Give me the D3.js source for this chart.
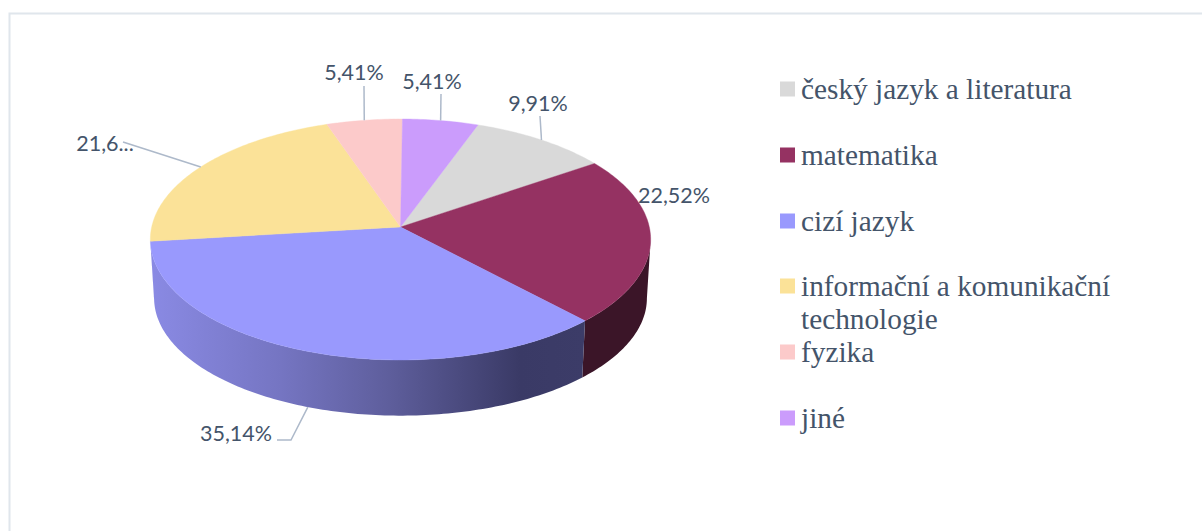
<!DOCTYPE html>
<html><head><meta charset="utf-8">
<script src="https://cdn.jsdelivr.net/npm/d3@7"></script>
<style>html,body{margin:0;padding:0;background:#fff;overflow:hidden}svg{display:block}</style>
</head><body><svg id="c" width="1202" height="531"></svg>
<script>
const categories = ["český jazyk a literatura","matematika","cizí jazyk","informační a komunikační technologie","fyzika","jiné"];
const values = [9.91,22.52,35.14,21.62,5.41,5.41];
const valueLabels = ["9,91%","22,52%","35,14%","21,6...","5,41%","5,41%"];
const colours = ["#d9d9d9","#953262","#9999fd","#fbe298","#fccaca","#cb9cfc"];
const sideColours = ["#6d6d6d","#3b1528","#3a3a66","#8a8ae4","#7e6565","#654e7e"];

const svg = d3.select("#c");
const colour = d3.scaleOrdinal(categories, colours);
const side = d3.scaleOrdinal(categories, sideColours);
const TAU = 2*Math.PI;

// Perspective projection of the pie disc
const cx=400.5, cy=227, a=119.2, b=248.8, k=0.1037, depth=59, shrink=0.985, shrinkY=0.975;
const top3 = t=>{const w=1+k*Math.cos(t);return [cx+b*Math.sin(t)/w, cy-a*Math.cos(t)/w];};
const bot3 = t=>{const w=1+k*Math.cos(t);return [cx+shrink*b*Math.sin(t)/w, cy+depth-shrinkY*a*Math.cos(t)/w];};
const line = d3.line();
const arcPts=(f,t0,t1)=>d3.range(0,1.0001,1/Math.max(8,Math.ceil(Math.abs(t1-t0)*60))).map(u=>f(t0+(t1-t0)*u));

const pie = d3.pie().value(d=>d.v).sort(null).startAngle(0.0).endAngle(TAU);
const startOffset = TAU*values[5]/d3.sum(values) + 0.5*Math.PI/180;
const slices = pie(categories.map((c,i)=>({c,v:values[i],l:valueLabels[i]})))
  .map(s=>({...s,a0:s.startAngle+startOffset,a1:s.endAngle+startOffset,mid:(s.startAngle+s.endAngle)/2+startOffset}));

// frame
svg.append("path").attr("d","M1202,13.5H9.5V531").attr("fill","none").attr("stroke","#e0e6ec").attr("stroke-width",2);

// side gradient
const defs=svg.append("defs");
const g=defs.append("linearGradient").attr("id","blueSide").attr("gradientUnits","userSpaceOnUse")
  .attr("x1",150).attr("x2",585).attr("y1",0).attr("y2",0);
[[0,"#8a8ae4"],[0.3,"#7575c2"],[0.55,"#5e5e9c"],[0.85,"#3a3a66"],[1,"#3c3c68"]].forEach(([o,c])=>g.append("stop").attr("offset",o).attr("stop-color",c));

// side walls: visible part of the rim, between the silhouette tangents
const vis0=Math.acos(-k), vis1=TAU-vis0;
slices.forEach((s)=>{
  const t0=Math.max(s.a0,vis0), t1=Math.min(s.a1,vis1);
  if(t1<=t0) return;
  const pts=[...arcPts(top3,t0,t1),...arcPts(bot3,t0,t1).reverse()];
  svg.append("path").attr("d",line(pts)+"Z")
    .attr("fill",s.data.c===categories[2]?"url(#blueSide)":side(s.data.c));
});
// top faces
slices.forEach(s=>{
  const pts=[[cx,cy],...arcPts(top3,s.a0,s.a1)];
  svg.append("path").attr("d",line(pts)+"Z").attr("fill",colour(s.data.c))
    .attr("stroke",colour(s.data.c)).attr("stroke-width",0.4);
});

// data labels: position per slice, in the order of categories
const labelLayout=[
 {x:538,y:111,end:[540,116]},
 {x:674,y:203,end:null},
 {x:236,y:441,elbow:[[291,440],[277,440]],useBottom:true},
 {x:105,y:151,end:[123,142]},
 {x:354,y:80,end:[364,86]},
 {x:432,y:89,end:[441,94]},
];
slices.forEach((s,i)=>{
  const L=labelLayout[i];
  const p=L.useBottom?bot3(s.mid):top3(s.mid);
  if(L.end) svg.append("path").attr("d",line([p,L.end])).attr("fill","none").attr("stroke","#adb9ca").attr("stroke-width",1.5);
  if(L.elbow) svg.append("path").attr("d",line([p,...L.elbow])).attr("fill","none").attr("stroke","#adb9ca").attr("stroke-width",1.5);
  svg.append("text").attr("x",L.x).attr("y",L.y).attr("text-anchor","middle")
    .attr("font-family","Lato, sans-serif").attr("font-size",21.5).attr("fill","#44546a").text(s.data.l);
});

// legend
const legendRows=[[categories[0]],[categories[1]],[categories[2]],["informační a komunikační","technologie"],[categories[4]],[categories[5]]];
const legendY=d3.scaleOrdinal(categories,[89,155,221,286,352,418]);
categories.forEach((c,i)=>{
  const y=legendY(c);
  svg.append("rect").attr("x",780).attr("y",y-7.5).attr("width",15).attr("height",15).attr("fill",colour(c));
  legendRows[i].forEach((t,j)=>svg.append("text").attr("x",801).attr("y",y+10+j*33)
    .attr("font-family","'Liberation Serif', serif").attr("font-size",29.3).attr("fill","#44546a").text(t));
});
</script></body></html>
